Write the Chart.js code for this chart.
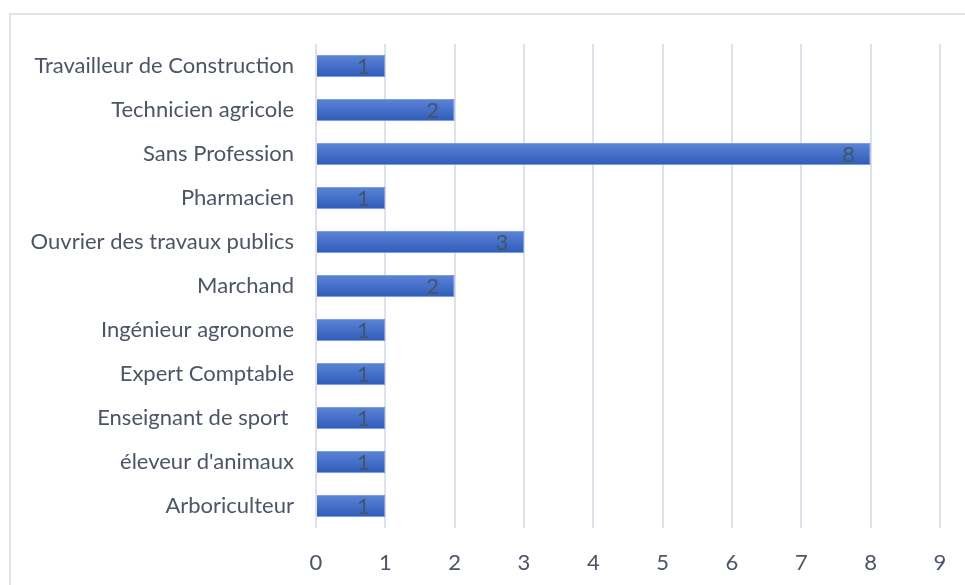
<!DOCTYPE html>
<html>
<head>
<meta charset="utf-8">
<script src="https://cdn.jsdelivr.net/npm/chart.js@4/dist/chart.umd.min.js"></script>
<style>
  html, body { margin: 0; padding: 0; background: #ffffff; overflow: hidden; }
  #wrap { position: relative; width: 965px; height: 585px; }
  #frame { position: absolute; left: 9px; top: 13px; width: 1000px; height: 640px;
           border: 2px solid #dfe2e8; box-sizing: border-box; }
  canvas { position: absolute; left: 0; top: 0; }
</style>
</head>
<body>
<div id="wrap">
  <div id="frame"></div>
  <canvas id="c" width="965" height="585"></canvas>
</div>
<script>
// Professions and head counts, listed top to bottom
const categories = [
  "Travailleur de Construction",
  "Technicien agricole",
  "Sans Profession",
  "Pharmacien",
  "Ouvrier des travaux publics",
  "Marchand",
  "Ingénieur agronome",
  "Expert Comptable",
  "Enseignant de sport ",
  "éleveur d'animaux",
  "Arboriculteur"
];
const counts = [1, 2, 8, 1, 3, 2, 1, 1, 1, 1, 1];
const axisMax = 9;

const FONT = "Lato, 'Open Sans', sans-serif";
const TEXT = "#4b5566";
const SIZE = 22;

// Value labels drawn just inside the end of each bar
const endLabels = {
  id: "endLabels",
  afterDatasetsDraw(chart) {
    const ctx = chart.ctx;
    const meta = chart.getDatasetMeta(0);
    ctx.save();
    ctx.font = SIZE + "px " + FONT;
    ctx.fillStyle = "#44546a";
    ctx.textAlign = "center";
    ctx.textBaseline = "middle";
    meta.data.forEach((bar, i) => {
      ctx.fillText(String(counts[i]), bar.x - 22, bar.y + 1);
    });
    ctx.restore();
  }
};

const ctx = document.getElementById("c").getContext("2d");

// Vertical light-to-dark gradient across each bar's thickness
function barFill(context) {
  const chart = context.chart;
  const yScale = chart.scales && chart.scales.y;
  if (!yScale || context.dataIndex === undefined) return "#3f6fcc";
  const cy = yScale.getPixelForValue(context.dataIndex);
  if (!Number.isFinite(cy)) return "#3f6fcc";
  const h = 22;
  const g = chart.ctx.createLinearGradient(0, cy - h / 2, 0, cy + h / 2);
  g.addColorStop(0, "#5b84d6");
  g.addColorStop(1, "#2f5cb9");
  return g;
}

new Chart(ctx, {
  type: "bar",
  data: {
    labels: categories,
    datasets: [{
      data: counts,
      backgroundColor: barFill,
      borderColor: "#7b9ee0",
      borderWidth: 1,
      borderSkipped: "start",
      categoryPercentage: 1,
      barPercentage: 0.5
    }]
  },
  options: {
    indexAxis: "y",
    responsive: false,
    animation: false,
    events: [],
    layout: { padding: { top: 44, right: 25, left: 0, bottom: 0 } },
    plugins: {
      legend: { display: false },
      tooltip: { enabled: false }
    },
    scales: {
      x: {
        min: 0,
        max: axisMax,
        ticks: {
          stepSize: 1,
          color: TEXT,
          font: { family: FONT, size: SIZE },
          padding: 22
        },
        grid: { color: "#dde1e9", lineWidth: 2, drawTicks: false },
        border: { display: false },
        afterFit(scale) {
          scale.height = 57;
          scale.paddingLeft = 0;
          scale.paddingRight = 0;
        }
      },
      y: {
        ticks: {
          color: TEXT,
          font: { family: FONT, size: SIZE },
          padding: 22,
          autoSkip: false
        },
        grid: { display: false, drawTicks: false },
        border: { display: false },
        afterFit(scale) { scale.width = 316; }
      }
    }
  },
  plugins: [endLabels]
});
</script>
</body>
</html>
